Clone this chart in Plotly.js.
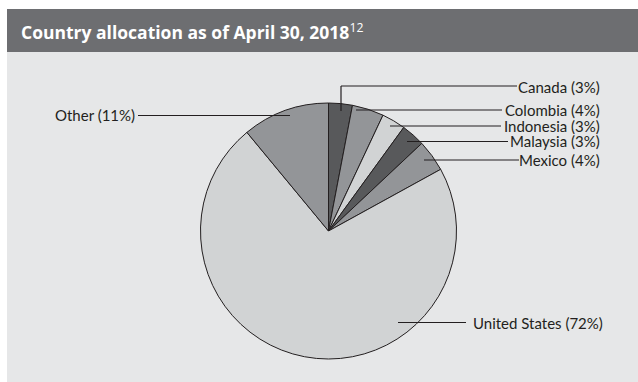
<!DOCTYPE html>
<html><head><meta charset="utf-8">
<script src="https://cdn.plot.ly/plotly-3.0.1.min.js"></script>
<style>html,body{margin:0;padding:0;background:#fff;}#chart{width:638px;height:382px;}</style>
</head><body><div id="chart"></div>
<script>
const countries = ["Canada","Colombia","Indonesia","Malaysia","Mexico","United States","Other"];
const weights = [3,4,3,3,4,72,11];
const sliceColors = ["#58595b","#939598","#d1d3d4","#58595b","#939598","#d1d3d4","#939598"];
const titleText = "Country allocation as of April 30, 2018";
const titleNote = "12";

const W = 638, H = 382;
const cx = 328.5, cy = 231, R = 128;
const px = x => x / W, py = y => 1 - y / H;

const labelLayout = [
  {tx:602, ty:86.5, xa:"right", l:[[341,111],[341,86],[517,86]]},
  {tx:602, ty:110, xa:"right", l:[[356,110],[502,110]]},
  {tx:602, ty:126, xa:"right", l:[[390,126],[501,126]]},
  {tx:602, ty:141.5, xa:"right", l:[[407,141.5],[508,141.5]]},
  {tx:602, ty:160, xa:"right", l:[[424,160],[519,160]]},
  {tx:471, ty:322.5, xa:"left", l:[[398,322.5],[466,322.5]]},
  {tx:53, ty:115.5, xa:"left", l:[[138,115.5],[290,115.5]]}
];

const shapes = [
  {type:"rect", xref:"paper", yref:"paper", x0:0, x1:1, y0:py(0), y1:py(9), fillcolor:"#ffffff", line:{width:0}},
  {type:"rect", xref:"paper", yref:"paper", x0:0, x1:px(7), y0:0, y1:1, fillcolor:"#ffffff", line:{width:0}},
  {type:"rect", xref:"paper", yref:"paper", x0:px(7), x1:1, y0:py(52), y1:py(9), fillcolor:"#6d6e71", line:{width:0}}
];
const annotations = [
  {xref:"paper", yref:"paper", x:px(19), y:py(31), xanchor:"left", yanchor:"middle", showarrow:false,
   text:"<b>"+titleText+"</b><sup>"+titleNote+"</sup>",
   font:{family:"Open Sans, sans-serif", size:17.5, color:"#ffffff"}}
];
countries.forEach((c,i)=>{
  const L = labelLayout[i];
  const pts = L.l;
  for (let k=0;k<pts.length-1;k++){
    shapes.push({type:"line", xref:"paper", yref:"paper", x0:px(pts[k][0]), y0:py(pts[k][1]), x1:px(pts[k+1][0]), y1:py(pts[k+1][1]), line:{color:"#231f20", width:1.2}});
  }
  annotations.push({xref:"paper", yref:"paper", x:px(L.tx), y:py(L.ty), xanchor:L.xa, yanchor:"middle", showarrow:false,
    text:c+" ("+weights[i]+"%)", font:{family:"Lato, sans-serif", size:15, color:"#231f20"}});
});

const trace = {
  type:"pie", values:weights, labels:countries, sort:false, direction:"clockwise", rotation:0,
  marker:{colors:sliceColors, line:{color:"#231f20", width:1}},
  textinfo:"none", hoverinfo:"none", showlegend:false,
  domain:{x:[px(cx-R), px(cx+R)], y:[py(cy+R), py(cy-R)]}
};
const layout = {
  width:W, height:H, margin:{l:0,r:0,t:0,b:0},
  paper_bgcolor:"#e6e7e8", plot_bgcolor:"#e6e7e8",
  shapes:shapes, annotations:annotations, showlegend:false
};
Plotly.newPlot("chart",[trace],layout,{staticPlot:true,displayModeBar:false});
</script></body></html>
